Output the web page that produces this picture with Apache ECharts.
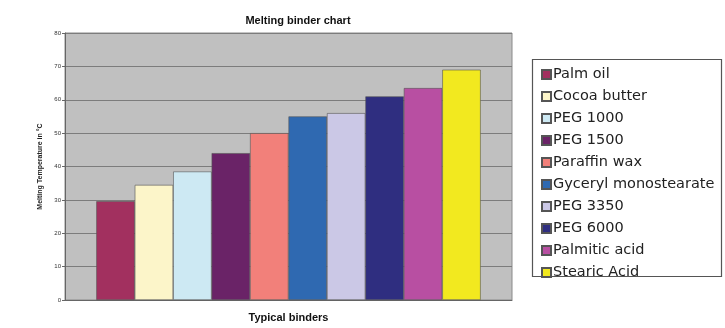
<!DOCTYPE html>
<html>
<head>
<meta charset="utf-8">
<script src="https://cdn.jsdelivr.net/npm/echarts@6/dist/echarts.min.js"></script>
<style>html,body{margin:0;padding:0;background:#fff}#c{width:725px;height:328px}</style>
</head>
<body>
<div id="c"></div>
<script>
var binders = ['Palm oil','Cocoa butter','PEG 1000','PEG 1500','Paraffin wax','Gyceryl monostearate','PEG 3350','PEG 6000','Palmitic acid','Stearic Acid'];
var meltingTemps = [29.6, 34.5, 38.5, 44, 50, 55, 56, 61, 63.5, 69];
var barColors = ['#a2305f','#fcf5c9','#cde9f3','#6a2367','#f2807a','#2f69b1','#cbc8e6','#2f2e80','#b84fa2','#f2e91f'];
var yTicks = [0,10,20,30,40,50,60,70,80];

var chart = echarts.init(document.getElementById('c'), null, {renderer:'canvas'});
var series = binders.map(function(name, i){
  return {
    name: name,
    type: 'bar',
    data: [meltingTemps[i]],
    barGap: '0%',
    barCategoryGap: '14%',
    itemStyle: {color: barColors[i], borderColor: '#555', borderWidth: 0.6},
    animation: false
  };
});
chart.setOption({
  animation: false,
  title: {
    text: 'Melting binder chart', left: 293, top: 10, textAlign: 'center',
    textStyle: {fontFamily: 'Liberation Sans, Arial', fontSize: 11, fontWeight: 'bold', color: '#111'}
  },
  grid: {left: 65, right: 213, top: 33, bottom: 25, show: true, backgroundColor: '#c0c0c0', borderColor: '#8a8a8a', borderWidth: 1},
  xAxis: {
    type: 'category', data: [''],
    name: 'Typical binders', nameLocation: 'middle', nameGap: 12,
    nameTextStyle: {fontFamily: 'Liberation Sans, Arial', fontSize: 11, fontWeight: 'bold', color: '#111'},
    axisLine: {lineStyle: {color: '#666'}}, axisTick: {show: false}, axisLabel: {show: false}
  },
  yAxis: {
    type: 'value', min: yTicks[0], max: yTicks[yTicks.length-1], interval: 10,
    name: 'Melting Temperature in °C', nameLocation: 'middle', nameGap: 18,
    nameTextStyle: {fontFamily: 'Liberation Sans, Arial', fontSize: 7, fontWeight: 'bold', color: '#222'},
    axisLine: {show: true, lineStyle: {color: '#666'}},
    axisTick: {show: true, length: 3, lineStyle: {color: '#666'}},
    axisLabel: {fontSize: 6, color: '#333', margin: 4},
    splitLine: {lineStyle: {color: '#7c7c7c', width: 1}}
  },
  legend: {
    orient: 'vertical', left: 536, top: 62, itemWidth: 9, itemHeight: 9, itemGap: 7,
    icon: 'rect',
    textStyle: {fontFamily: 'DejaVu Sans', fontSize: 14.5, lineHeight: 14, color: '#222', padding: [0,0,0,-3]},
    data: binders
  },
  graphic: [{
    type: 'rect', shape: {x: 532.5, y: 59.5, width: 189, height: 217},
    style: {fill: 'none', stroke: '#555', lineWidth: 1.2}, z: -1
  }],
  series: series
});
</script>
</body>
</html>
